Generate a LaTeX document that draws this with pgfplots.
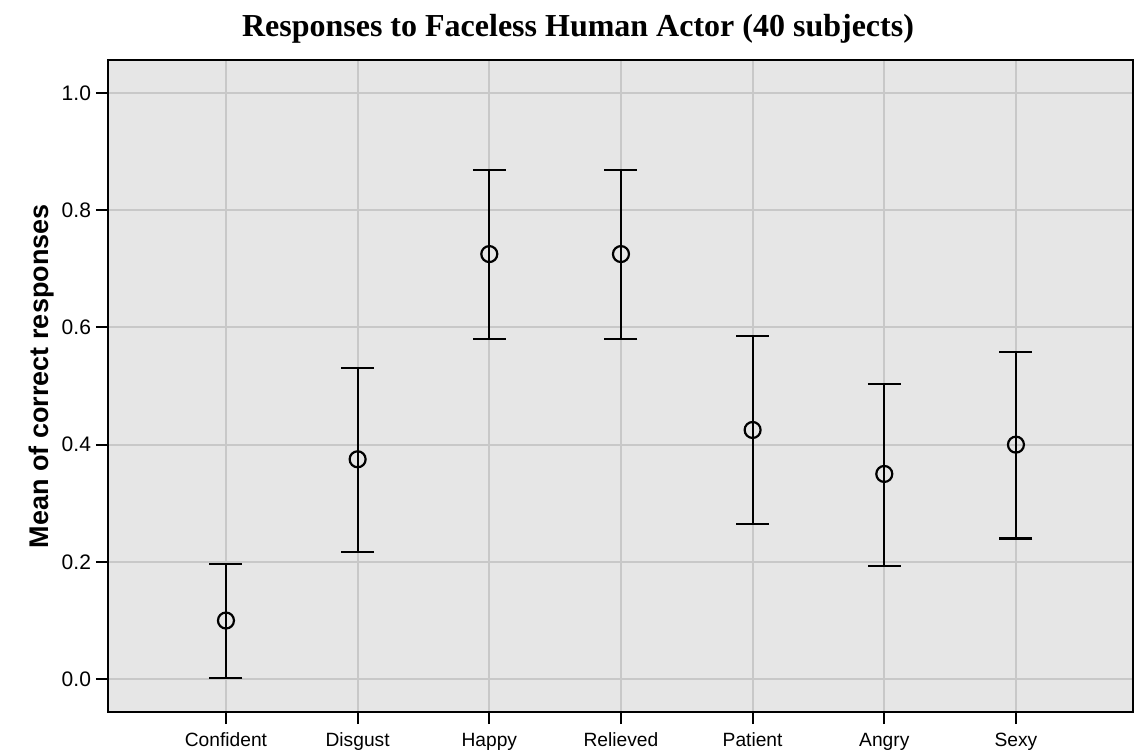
\documentclass[border=0pt]{standalone}
\usepackage{pgfplots}
\pgfplotsset{compat=1.18}
\usepackage{pgfplotstable}
\usepackage{fontspec}
\setmainfont{Liberation Sans}
\newfontfamily\titlefont{Liberation Serif}
\definecolor{bgc}{HTML}{E6E6E6}
\definecolor{gridc}{HTML}{C8C8C8}
\pgfplotstableread{
x y ep em
0 0.100 0.096 0.098
1 0.375 0.156 0.158
2 0.725 0.143 0.145
3 0.725 0.143 0.145
4 0.425 0.160 0.160
5 0.350 0.154 0.157
6 0.400 0.158 0.160
}\datatab
\begin{document}
\begin{tikzpicture}
\useasboundingbox (-54pt,-19pt) rectangle (513.5pt,356pt);
\begin{axis}[
  scale only axis,
  width=512.5pt, height=326pt,
  xmin=-0.896, xmax=6.889,
  ymin=-0.056, ymax=1.056,
  axis background/.style={fill=bgc},
  axis line style={black, line width=1.2pt},
  xtick=data,
  xticklabels={Confident,Disgust,Happy,Relieved,Patient,Angry,Sexy},
  ytick={0,0.2,0.4,0.6,0.8,1.0},
  yticklabel style={/pgf/number format/fixed,/pgf/number format/precision=1,/pgf/number format/fixed zerofill, font=\fontsize{10.5pt}{11pt}\selectfont, xshift=1pt},
  /pgf/number format/assume math mode=true,
  xticklabel style={font=\fontsize{9.6pt}{10pt}\selectfont, yshift=-1pt},
  tick align=outside,
  major tick length=6pt,
  tick style={black, line width=1.1pt},
  xtick pos=bottom, ytick pos=left,
  grid=major,
  major grid style={gridc, line width=0.9pt},
  ylabel={\bfseries Mean of correct responses},
  ylabel style={font=\fontsize{13.5pt}{14pt}\selectfont},
  every axis y label/.append style={at={(ticklabel cs:0.515,-3pt)}, anchor=south},
]
\addplot[only marks, black, mark=o, mark size=4pt, line width=1.1pt,
  mark options={fill=bgc},
  error bars/.cd, y dir=both, y explicit,
  error bar style={line width=1.1pt, black},
  error mark options={rotate=90, mark size=8.25pt, line width=1.1pt, black}]
  table[x=x, y=y, y error plus=ep, y error minus=em] {\datatab};
\end{axis}
\node[anchor=base, font=\titlefont\bfseries\fontsize{16pt}{18pt}\selectfont] at (235pt,337.5pt) {Responses to Faceless Human Actor (40 subjects)};
\end{tikzpicture}
\end{document}
